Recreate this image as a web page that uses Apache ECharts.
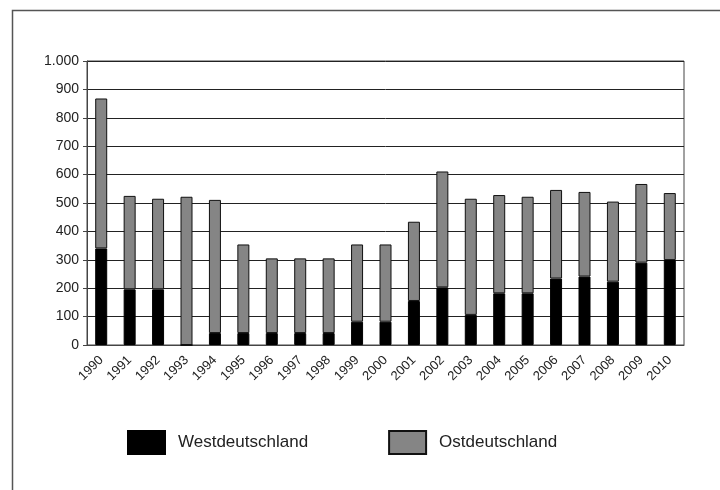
<!DOCTYPE html>
<html>
<head>
<meta charset="utf-8">
<script src="https://cdn.jsdelivr.net/npm/echarts@6/dist/echarts.min.js"></script>
<style>
  html, body { margin: 0; padding: 0; background: #fff; }
  #chart { width: 720px; height: 490px; }
</style>
</head>
<body>
<div id="chart"></div>
<script>
const years = ['1990', '1991', '1992', '1993', '1994', '1995', '1996', '1997', '1998', '1999', '2000',
  '2001', '2002', '2003', '2004', '2005', '2006', '2007', '2008', '2009', '2010']
const west = [340, 196, 196, 0, 42, 42, 42, 42, 42, 82, 82, 155, 203, 106, 182, 182, 234, 241, 223, 290, 299]
const east = [528, 329, 319, 522, 469, 312, 263, 263, 263, 272, 272, 279, 408, 409, 346, 340, 312, 298, 282, 277, 236]

let chart = echarts.init(document.getElementById('chart'))
chart.setOption({
  animation: false,
  textStyle: { fontFamily: 'Liberation Sans, Arial, sans-serif' },
  graphic: [{
    type: 'rect',
    left: 10,
    top: 8,
    shape: { width: 730, height: 500 },
    style: { fill: 'none', stroke: '#555', lineWidth: 1.5 }
  }],
  grid: {
    left: 87,
    right: 36,
    top: 61,
    bottom: 145,
    show: true,
    borderColor: '#444',
    borderWidth: 1
  },
  legend: {
    left: 122,
    top: 425,
    itemWidth: 37,
    itemHeight: 23,
    itemGap: 80,
    icon: 'rect',
    textStyle: { fontSize: 17, color: '#222', padding: [0, 0, 0, 8] },
    data: ['Westdeutschland', 'Ostdeutschland']
  },
  xAxis: {
    type: 'category',
    data: years,
    axisLine: { lineStyle: { color: '#444' } },
    axisTick: { length: 4, lineStyle: { color: '#444' } },
    axisLabel: { rotate: 45, fontSize: 13, color: '#222', margin: 13 }
  },
  yAxis: {
    type: 'value',
    min: 0,
    max: 1000,
    interval: 100,
    axisLine: { show: true, lineStyle: { color: '#444' } },
    axisTick: { show: true, length: 4, lineStyle: { color: '#444' } },
    axisLabel: {
      fontSize: 14,
      color: '#222',
      margin: 8,
      formatter: v => v >= 1000 ? '1.000' : String(v)
    },
    splitLine: { lineStyle: { color: '#222', width: 1 } }
  },
  series: [
    {
      name: 'Westdeutschland',
      type: 'bar',
      stack: 'gesamt',
      barWidth: 12,
      itemStyle: { color: '#000', borderColor: '#000', borderWidth: 1 },
      data: west
    },
    {
      name: 'Ostdeutschland',
      type: 'bar',
      stack: 'gesamt',
      barWidth: 12,
      itemStyle: { color: '#858585', borderColor: '#111', borderWidth: 1 },
      data: east
    }
  ]
})
</script>
</body>
</html>
